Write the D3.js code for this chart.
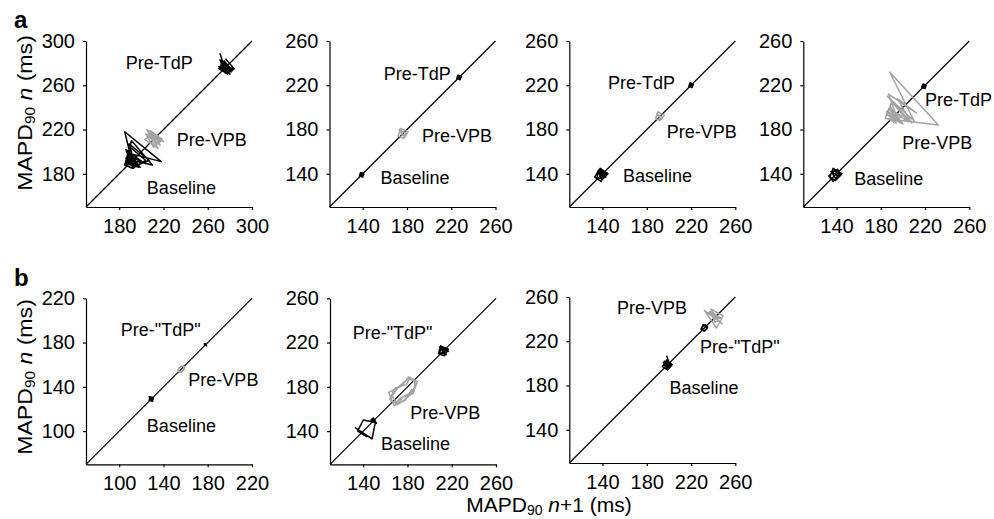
<!DOCTYPE html>
<html>
<head>
<meta charset="utf-8">
<script src="https://cdn.jsdelivr.net/npm/d3@7"></script>
<style>
  body { margin: 0; background: #fff; }
  svg { display: block; font-family: "Liberation Sans", Arial, Helvetica, sans-serif; }
</style>
</head>
<body>
<svg id="chart" width="994" height="519"></svg>
<script>
// beat-by-beat MAPD90 sequences (ms); the return map plots (n+1, n)
const a1Baseline = [190, 187, 195, 189, 186, 198, 191, 218, 185, 193, 188, 210, 191, 187, 196, 190, 202, 186, 192, 207, 189, 194, 186, 199, 188, 185, 192, 204, 190, 188];
const a1PreVPB = [208, 214, 206, 217, 211, 203, 215, 209, 220, 205, 212, 218, 207, 213, 210, 216, 204, 211, 219, 208, 214, 210];
const a1PreTdP = [289, 271, 277, 270, 280, 274, 283, 271, 276, 279, 273, 282, 275, 270, 278, 272, 281, 274, 279, 272, 277, 275, 284, 276];

const a2Baseline = [139, 141, 138, 140, 141, 138, 137, 140, 141, 139, 138, 140, 139, 141, 138];
const a2PreVPB = [176, 180, 173, 178, 181, 174, 172, 177, 179, 174, 176];
const a2PreTdP = [227, 229, 226, 228, 229, 226, 225, 228, 229, 227, 226, 228, 227, 229, 226];

const a3Baseline = [138, 143, 136, 141, 144, 137, 135, 140, 145, 138, 142, 136, 139, 144, 137, 133, 139, 141, 137, 143, 139];
const a3PreVPB = [191, 194, 189, 193, 196, 190, 188, 192, 191];
const a3PreTdP = [220, 222, 219, 221, 222, 219, 218, 221, 222, 220, 219, 221, 220];

const a4Baseline = [138, 142, 135, 140, 145, 137, 134, 139, 144, 141, 136, 139, 143, 138, 133, 137, 141, 139];
const a4PreVPB = [190, 186, 194, 188, 197, 186, 192, 199, 187, 205, 190, 184, 232, 188, 210, 186, 208, 195, 212, 187, 196, 185, 200, 189, 193, 186, 198, 188];
const a4PreTdP = [219, 221, 218, 220, 221, 218, 217, 220, 221, 219, 218, 220, 219];

const b1Baseline = [129, 131, 127, 130, 131, 128, 127, 130, 129, 128, 130];
const b1PreVPB = [156, 153, 155, 158, 159, 157, 154, 153, 156, 159, 158, 155];
const b1PreTdP = [178, 179, 177, 179, 178, 177, 179];

const b2Baseline = [150, 149, 151, 148, 150, 140, 135, 143, 133, 148, 151, 150, 147, 152, 149, 151, 148, 150];
const b2PreVPB = [176, 167, 165, 173, 183, 188, 182, 179, 169, 164, 171, 176, 186, 187, 180, 172, 166, 170, 174, 185, 189, 181, 175, 163, 168, 178, 184];
const b2PreTdP = [212, 216, 209, 214, 217, 210, 208, 213, 216, 211, 209, 215, 212, 217, 210, 213];

const b3Baseline = [207, 198, 201, 195, 199, 202, 196, 198, 201, 197, 194, 199, 203, 198, 196, 200, 198];
const b3PreVPB = [240, 246, 236, 248, 232, 243, 249, 238, 244, 241, 247, 237, 242, 245];
const b3PreTdP = [232, 235, 231, 229, 232, 235, 233, 230, 230, 233, 235, 232];

// axis domains and tick labels
const domainA1 = [150, 300];
const domainMid = [110, 260];
const domainB1 = [70, 220];
const ticksA1 = [180, 220, 260, 300];
const ticksMid = [140, 180, 220, 260];
const ticksB1 = [100, 140, 180, 220];

const black = '#000';
const grey = '#a3a3a3';
const size = 166;

const panels = [
  { left: 86, top: 41, domain: domainA1, ticks: ticksA1,
    series: [[a1Baseline, black], [a1PreVPB, grey], [a1PreTdP, black]],
    labels: [['Pre-TdP', 186, 275], ['Pre-VPB', 232, 205], ['Baseline', 205, 161.5]] },
  { left: 329.5, top: 41, domain: domainMid, ticks: ticksMid,
    series: [[a2Baseline, black], [a2PreVPB, grey], [a2PreTdP, black]],
    labels: [['Pre-TdP', 159, 225], ['Pre-VPB', 193.5, 169], ['Baseline', 156, 131]] },
  { left: 569.3, top: 41, domain: domainMid, ticks: ticksMid,
    series: [[a3Baseline, black], [a3PreVPB, grey], [a3PreTdP, black]],
    labels: [['Pre-TdP', 145, 216.5], ['Pre-VPB', 198, 172.5], ['Baseline', 158.5, 133]] },
  { left: 803.3, top: 41, domain: domainMid, ticks: ticksMid,
    series: [[a4Baseline, black], [a4PreVPB, grey], [a4PreTdP, black]],
    labels: [['Pre-TdP', 220, 201.5], ['Pre-VPB', 199.5, 162.5], ['Baseline', 156, 130]] },
  { left: 86, top: 298.3, domain: domainB1, ticks: ticksB1,
    series: [[b1Baseline, black], [b1PreVPB, grey], [b1PreTdP, black]],
    labels: [['Pre-"TdP"', 101.5, 186], ['Pre-VPB', 162.5, 141], ['Baseline', 125, 99.5]] },
  { left: 330, top: 298.3, domain: domainMid, ticks: ticksMid,
    series: [[b2Baseline, black], [b2PreVPB, grey], [b2PreTdP, black]],
    labels: [['Pre-"TdP"', 130.5, 223], ['Pre-VPB', 182.5, 150.5], ['Baseline', 156, 123]] },
  { left: 569.3, top: 297, domain: domainMid, ticks: ticksMid,
    series: [[b3Baseline, black], [b3PreVPB, grey], [b3PreTdP, black]],
    labels: [['Pre-VPB', 153, 244.5], ['Pre-"TdP"', 228, 209.5], ['Baseline', 200.5, 172]] }
];

const svg = d3.select('#chart');
svg.append('rect').attr('width', 994).attr('height', 519).attr('fill', '#fff');

panels.forEach(p => {
  const x = d3.scaleLinear().domain(p.domain).range([p.left, p.left + size]);
  const y = d3.scaleLinear().domain(p.domain).range([p.top + size, p.top]);
  const g = svg.append('g');

  const xAxis = g.append('g')
    .attr('transform', `translate(0,${p.top + size})`)
    .call(d3.axisBottom(x).tickValues(p.ticks).tickSize(3).tickSizeOuter(0).tickPadding(9));
  const yAxis = g.append('g')
    .attr('transform', `translate(${p.left},0)`)
    .call(d3.axisLeft(y).tickValues(p.ticks).tickSize(3).tickSizeOuter(0).tickPadding(8));
  [xAxis, yAxis].forEach(a => {
    a.selectAll('path, line').attr('stroke', '#000').attr('stroke-width', 1.2);
    a.selectAll('text').attr('font-size', 20).attr('fill', '#000').attr('font-family', null);
  });

  // identity line
  g.append('line')
    .attr('x1', x(p.domain[0])).attr('y1', y(p.domain[0]))
    .attr('x2', x(p.domain[1])).attr('y2', y(p.domain[1]))
    .attr('stroke', '#000').attr('stroke-width', 1.2);

  const line = d3.line()
    .x(d => x(d[1]))
    .y(d => y(d[0]));

  p.series.forEach(([seq, color]) => {
    g.append('path')
      .datum(d3.pairs(seq))
      .attr('d', line)
      .attr('fill', 'none')
      .attr('stroke', color)
      .attr('stroke-width', 1.5)
      .attr('stroke-linejoin', 'round');
  });

  p.labels.forEach(([t, lx, ly]) => {
    g.append('text')
      .attr('x', x(lx)).attr('y', y(ly))
      .attr('font-size', 18)
      .text(t);
  });
});

// panel letters
svg.append('text').attr('x', 14).attr('y', 28).attr('font-size', 24).attr('font-weight', 'bold').text('a');
svg.append('text').attr('x', 14).attr('y', 286).attr('font-size', 24).attr('font-weight', 'bold').text('b');

// axis titles
function mapdLabel(sel, tail) {
  sel.append('tspan').text('MAPD');
  sel.append('tspan').attr('font-size', 14).attr('dy', 3).text('90');
  sel.append('tspan').attr('dy', -3).text('\u00a0');
  sel.append('tspan').attr('font-style', 'italic').text('n');
  sel.append('tspan').text(tail);
}

[113, 377].forEach(cy => {
  const t = svg.append('text')
    .attr('transform', `translate(32,${cy}) rotate(-90) scale(1.1,1)`)
    .attr('text-anchor', 'middle')
    .attr('font-size', 21);
  mapdLabel(t, ' (ms)');
});

const xt = svg.append('text')
  .attr('x', 549).attr('y', 512)
  .attr('text-anchor', 'middle')
  .attr('font-size', 21);
mapdLabel(xt, '+1 (ms)');
</script>
</body>
</html>
